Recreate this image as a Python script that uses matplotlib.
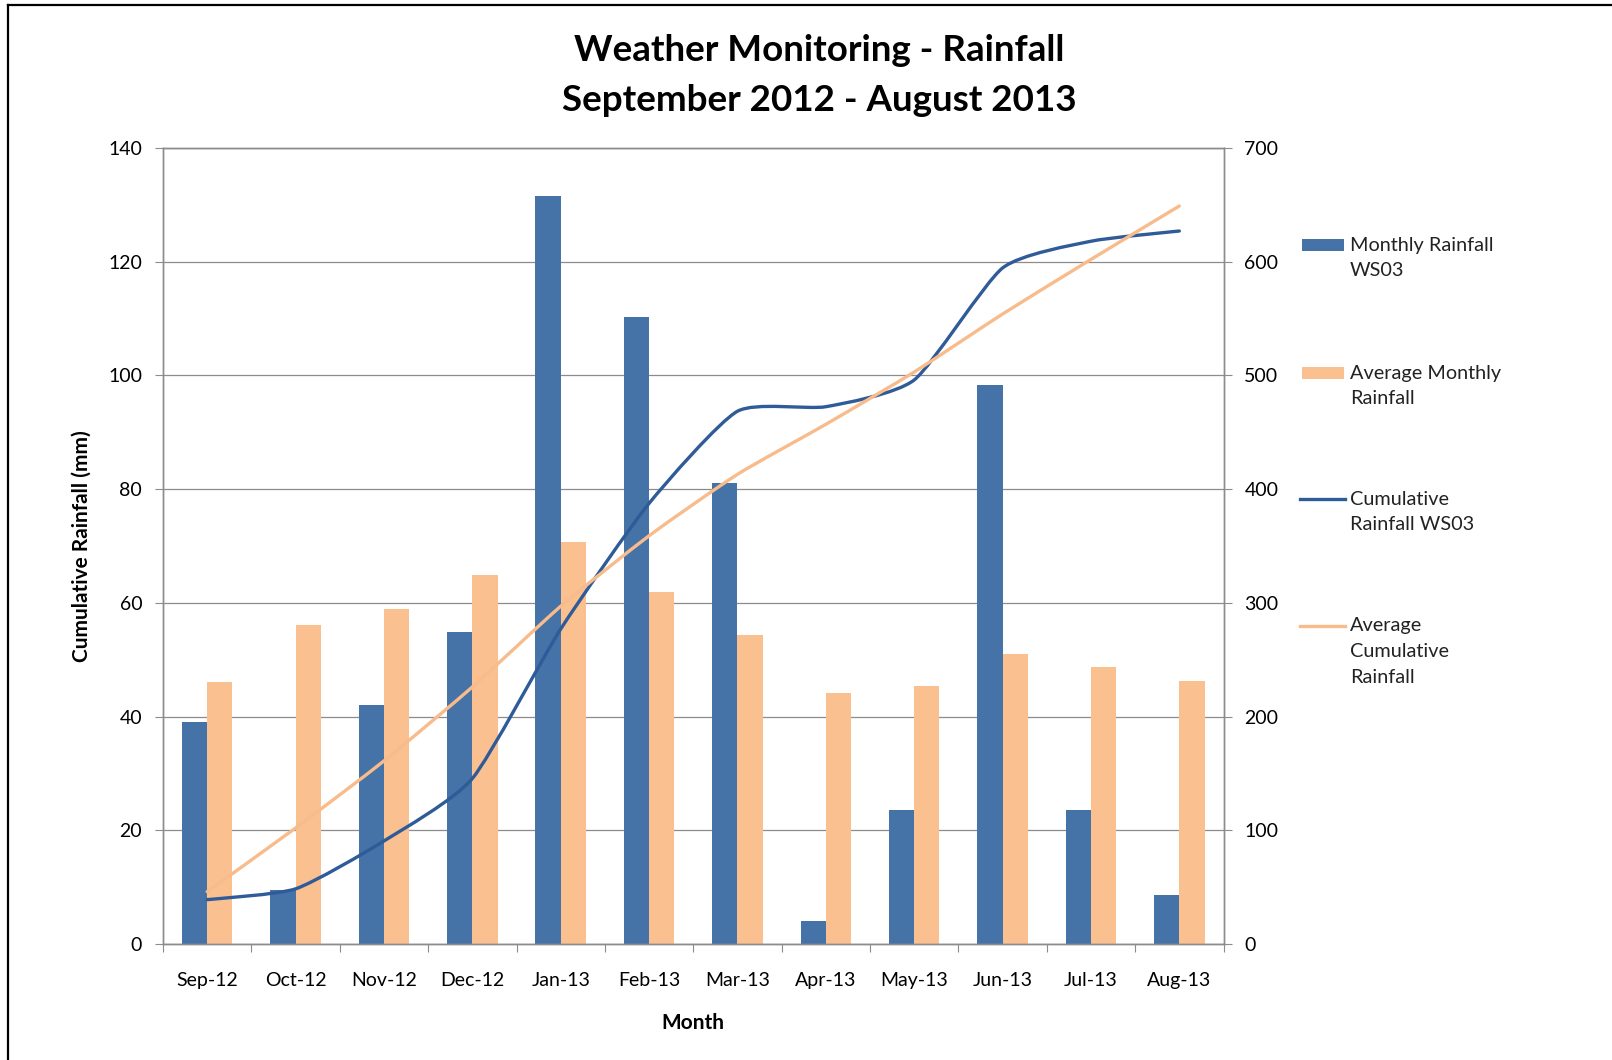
import numpy as np
import matplotlib.pyplot as plt
from matplotlib.path import Path
from matplotlib.patches import PathPatch, Rectangle
from matplotlib.lines import Line2D

plt.rcParams['font.family'] = ['Lato', 'DejaVu Sans']

months = ['Sep-12', 'Oct-12', 'Nov-12', 'Dec-12', 'Jan-13', 'Feb-13',
          'Mar-13', 'Apr-13', 'May-13', 'Jun-13', 'Jul-13', 'Aug-13']
monthly_ws03 = [39.0, 9.5, 42.1, 54.9, 131.6, 110.3, 81.1, 4.1, 23.6, 98.4, 23.6, 8.7]
avg_monthly = [46.1, 56.1, 58.9, 64.9, 70.7, 61.9, 54.4, 44.2, 45.4, 51.0, 48.8, 46.3]
cum_ws03 = [39.0, 48.5, 90.6, 145.5, 277.0, 387.5, 468.5, 472.5, 496.0, 594.5, 618.0, 627.0]
avg_cum = [46.0, 102.0, 161.0, 226.0, 297.0, 359.0, 413.0, 457.0, 503.0, 554.0, 602.0, 649.0]

legend_labels = ['Monthly Rainfall\nWS03', 'Average Monthly\nRainfall',
                 'Cumulative\nRainfall WS03', 'Average\nCumulative\nRainfall']

BLUE = '#4572A7'
ORANGE = '#FAC090'
LINE_BLUE = '#2F5B98'
LINE_ORANGE = '#F8BC8C'
GRID = '#8C8C8C'

W, H = 1612, 1060


def smooth_path(xs, ys, k=10):
    # mild excel style smoothing: bezier segments through every point
    pts = np.column_stack([xs, ys]).astype(float)
    n = len(pts)
    verts = [pts[0]]
    codes = [Path.MOVETO]
    for i in range(n - 1):
        p0 = pts[max(i - 1, 0)]
        p1 = pts[i]
        p2 = pts[i + 1]
        p3 = pts[min(i + 2, n - 1)]
        verts += [p1 + (p2 - p0) / k, p2 - (p3 - p1) / k, p2]
        codes += [Path.CURVE4] * 3
    return Path(verts, codes)


fig = plt.figure(figsize=(W / 100, H / 100), dpi=100)
ax = fig.add_axes([163 / W, 1 - 944 / H, (1223.5 - 163) / W, (944 - 148) / H])
ax2 = ax.twinx()

x = np.arange(len(months))
w = 1 / 3.5
ax.bar(x - w / 2, monthly_ws03, w, color=BLUE, zorder=2)
ax.bar(x + w / 2, avg_monthly, w, color=ORANGE, zorder=2)

ax2.add_patch(PathPatch(smooth_path(x, cum_ws03), fill=False, edgecolor=LINE_BLUE,
                        lw=2.4, capstyle='round', joinstyle='round'))
ax2.add_patch(PathPatch(smooth_path(x, avg_cum), fill=False, edgecolor=LINE_ORANGE,
                        lw=2.4, capstyle='round', joinstyle='round'))

ax.set_xlim(-0.5, 11.5)
ax.set_ylim(0, 140)
ax2.set_ylim(0, 700)
ax.set_yticks(np.arange(0, 141, 20))
ax2.set_yticks(np.arange(0, 701, 100))
ax.yaxis.grid(True, color=GRID, lw=0.9, zorder=0)
ax.set_axisbelow(True)

ax.set_xticks(np.arange(-0.5, 12, 1))
ax.set_xticklabels([])
ax.set_xticks(x, minor=True)
ax.set_xticklabels(months, minor=True)
ax.tick_params(axis='x', which='major', length=6, color=GRID)
ax.tick_params(axis='x', which='minor', length=0, pad=20.5, labelsize=14)
ax.tick_params(axis='y', length=6, pad=9, color=GRID, labelsize=14)
ax2.tick_params(axis='y', length=6, pad=9, color=GRID, labelsize=14)

for a in (ax, ax2):
    for s in a.spines.values():
        s.set_color(GRID)
        s.set_linewidth(1.0)

ax.set_ylabel('Cumulative Rainfall (mm)', fontsize=15, fontweight='bold')
ax.yaxis.set_label_coords((92 - 163) / 1060.5, 0.5)
ax.set_xlabel('Month', fontsize=15, fontweight='bold')
ax.xaxis.set_label_coords(0.5, -(1013 - 944) / 796)

fig.suptitle('Weather Monitoring - Rainfall\nSeptember 2012 - August 2013',
             x=819 / W, y=1 - 34 / H, fontsize=26.5, fontweight='bold', linespacing=1.62)

# legend, drawn by hand so the key sits on the first line of each label
handle_kind = ['patch', 'patch', 'line', 'line']
handle_color = [BLUE, ORANGE, LINE_BLUE, LINE_ORANGE]
entry_y = [245, 373, 499, 626]
for kind, col, lab, yy in zip(handle_kind, handle_color, legend_labels, entry_y):
    if kind == 'patch':
        fig.add_artist(Rectangle((1301.5 / W, 1 - (yy + 6) / H), 42 / W, 12 / H,
                                 transform=fig.transFigure, color=col, lw=0))
    else:
        fig.add_artist(Line2D([1300 / W, 1345 / W], [1 - yy / H] * 2,
                              transform=fig.transFigure, color=col, lw=2.4))
    for k, line in enumerate(lab.split('\n')):
        fig.text(1350 / W, 1 - (yy + k * 25.7) / H, line, fontsize=14.3,
                 va='center', ha='left', color='#222222')

# outer chart border (cut off at the right and bottom in the source)
fig.add_artist(Line2D([8 / W, 1.0], [1 - 5 / H] * 2, transform=fig.transFigure,
                      color='black', lw=1.6))
fig.add_artist(Line2D([8 / W] * 2, [1 - 5 / H, 0.0], transform=fig.transFigure,
                      color='black', lw=1.6))

fig.savefig('out.png', dpi=100)
